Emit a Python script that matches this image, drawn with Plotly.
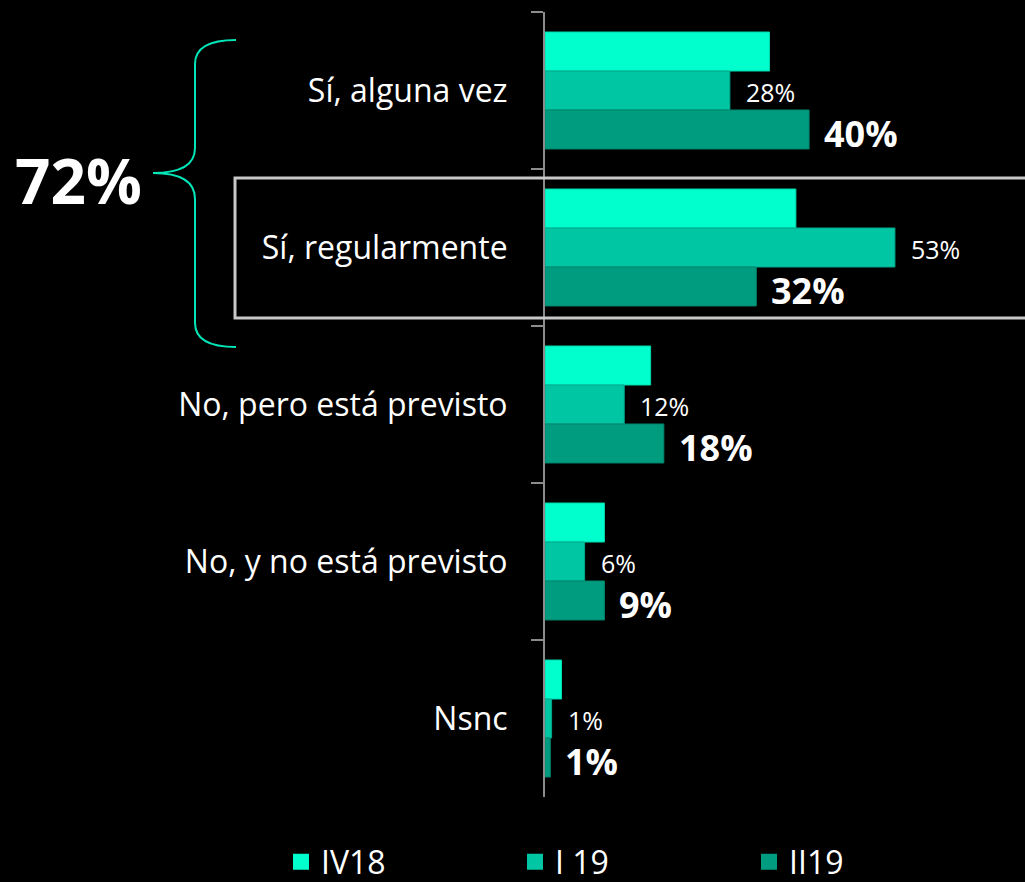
import plotly.graph_objects as go

categories = ["Sí, alguna vez", "Sí, regularmente", "No, pero está previsto",
              "No, y no está previsto", "Nsnc"]
series_names = ["IV18", "I 19", "II19"]
iv18 = [34, 38, 16, 9, 2.5]
i19 = [28, 53, 12, 6, 1]
ii19 = [40, 32, 18, 9, 0.8]
i19_labels = ["28%", "53%", "12%", "6%", "1%"]
ii19_labels = ["40%", "32%", "18%", "9%", "1%"]
total_label = "72%"

colors = ["#00FFCC", "#00C6A4", "#009C80"]
edge = ["#00D9AE", "#00A88B", "#00846C"]
FONT = "Open Sans"

# plot area in pixels
L, W, T, H = 545, 480, 12, 785
def px(x):
    return (x - L) / W
def py(y):
    return (T + H - y) / H

fig = go.Figure()
for name, vals, c, e in zip(series_names, [iv18, i19, ii19], colors, edge):
    fig.add_trace(go.Bar(
        y=categories, x=vals, name=name, orientation="h",
        marker=dict(color=c, line=dict(color=e, width=1)),
        showlegend=False, hoverinfo="skip"))
# legend entries
for name, c in zip(series_names, colors):
    fig.add_trace(go.Scatter(
        x=[None], y=[None], mode="markers", name=name,
        marker=dict(symbol="square", size=16, color=c), showlegend=True))

annotations = []
for cat, v, t in zip(categories, i19, i19_labels):
    annotations.append(dict(x=v, y=cat, text=t, xref="x", yref="y",
                            xanchor="left", yanchor="middle", xshift=14, yshift=-1,
                            showarrow=False,
                            font=dict(family=FONT, size=25, color="white")))
for cat, v, t in zip(categories, ii19, ii19_labels):
    annotations.append(dict(x=v, y=cat, text="<b>" + t + "</b>", xref="x", yref="y",
                            xanchor="left", yanchor="middle", xshift=13, yshift=-43,
                            showarrow=False,
                            font=dict(family=FONT, size=36, color="white")))
annotations.append(dict(x=px(78), y=py(180), xref="paper", yref="paper",
                        text="<b>" + total_label + "</b>", showarrow=False,
                        xanchor="center", yanchor="middle",
                        font=dict(family=FONT, size=62, color="white")))

brace = (f"M {px(236)},{py(40)} Q {px(195)},{py(40)} {px(195)},{py(64)} "
         f"L {px(195)},{py(148)} Q {px(195)},{py(173)} {px(153)},{py(173)} "
         f"Q {px(195)},{py(173)} {px(195)},{py(199)} "
         f"L {px(195)},{py(323)} Q {px(195)},{py(347)} {px(236)},{py(347)}")

shapes = [
    dict(type="path", path=brace, xref="paper", yref="paper",
         line=dict(color="#00E6B8", width=2)),
    dict(type="rect", xref="paper", yref="paper",
         x0=px(235), x1=px(1040), y0=py(318), y1=py(178),
         line=dict(color="#C8C8C8", width=3)),
]

fig.update_layout(
    width=1025, height=882,
    margin=dict(l=L, r=1025 - L - W, t=T, b=882 - T - H, autoexpand=False),
    paper_bgcolor="black", plot_bgcolor="black",
    barmode="group", bargap=0.255, bargroupgap=0,
    font=dict(family=FONT, color="white"),
    xaxis=dict(range=[0, 72.7], visible=False, showgrid=False, zeroline=False),
    yaxis=dict(type="category", categoryorder="array", categoryarray=categories,
               range=[4.5, -0.5], showline=True, linecolor="#8C8C8C", linewidth=2,
               ticks="outside", tickson="boundaries", ticklen=12,
               tickcolor="#8C8C8C", tickwidth=2, showgrid=False, zeroline=False,
               ticklabelstandoff=29,
               tickfont=dict(family=FONT, size=32, color="white")),
    legend=dict(orientation="h", x=px(281), y=py(862), xanchor="left",
                yanchor="middle", entrywidth=189, entrywidthmode="pixels",
                itemsizing="trace", bgcolor="rgba(0,0,0,0)",
                font=dict(family=FONT, size=32, color="white")),
    annotations=annotations, shapes=shapes,
)

fig.write_html("out.html", config={"displayModeBar": False},
               post_script="document.body.style.margin='0';"
                           "document.body.style.background='black';")
